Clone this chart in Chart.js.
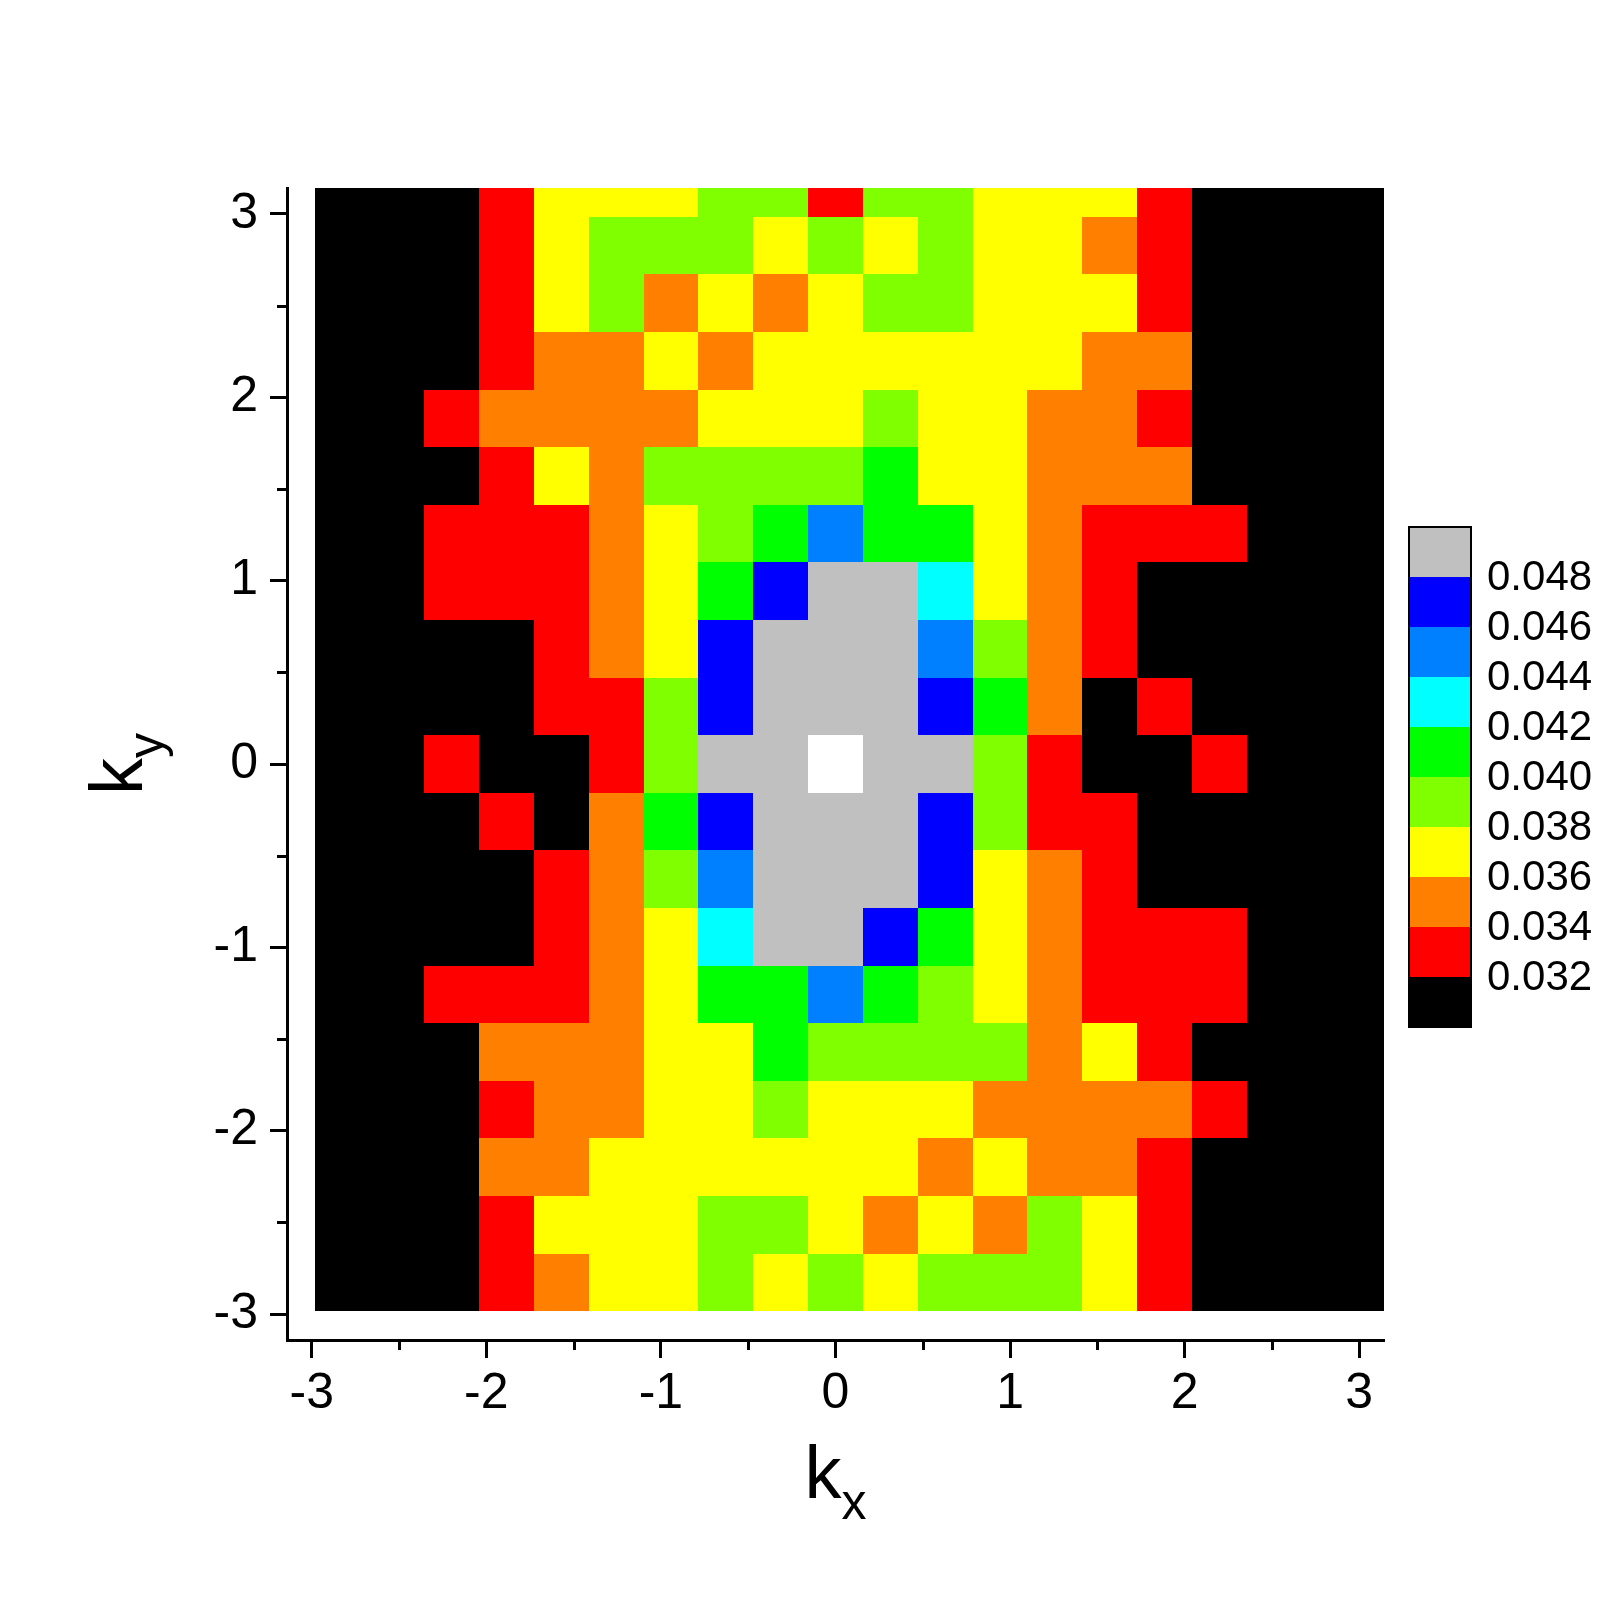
<!DOCTYPE html>
<html>
<head>
<meta charset="utf-8">
<script src="https://cdn.jsdelivr.net/npm/chart.js@4.4.1/dist/chart.umd.min.js"></script>
<style>
  html, body { margin: 0; padding: 0; background: #ffffff; }
  #wrap { position: relative; width: 1609px; height: 1609px; }
</style>
</head>
<body>
<div id="wrap"><canvas id="c" width="1609" height="1609"></canvas></div>
<script>
// ---------------- DATA ----------------
// cell centres along k_x (left -> right)
const kx = [-2.827, -2.513, -2.199, -1.885, -1.571, -1.257, -0.942, -0.628, -0.314, 0,
            0.314, 0.628, 0.942, 1.257, 1.571, 1.885, 2.199, 2.513, 2.827, 3.142];
// cell centres along k_y, one per row of the matrix (top -> bottom)
const kyRows = [3.142, 2.827, 2.513, 2.199, 1.885, 1.571, 1.257, 0.942, 0.628, 0.314,
                0, -0.314, -0.628, -0.942, -1.257, -1.571, -1.885, -2.199, -2.513, -2.827];
// intensity values (row-major, top row first)
const intensity = [
  [0.031,0.031,0.031,0.033,0.037,0.037,0.037,0.039,0.039,0.033,0.039,0.039,0.037,0.037,0.037,0.033,0.031,0.031,0.031,0.031],
  [0.031,0.031,0.031,0.033,0.037,0.039,0.039,0.039,0.037,0.039,0.037,0.039,0.037,0.037,0.035,0.033,0.031,0.031,0.031,0.031],
  [0.031,0.031,0.031,0.033,0.037,0.039,0.035,0.037,0.035,0.037,0.039,0.039,0.037,0.037,0.037,0.033,0.031,0.031,0.031,0.031],
  [0.031,0.031,0.031,0.033,0.035,0.035,0.037,0.035,0.037,0.037,0.037,0.037,0.037,0.037,0.035,0.035,0.031,0.031,0.031,0.031],
  [0.031,0.031,0.033,0.035,0.035,0.035,0.035,0.037,0.037,0.037,0.039,0.037,0.037,0.035,0.035,0.033,0.031,0.031,0.031,0.031],
  [0.031,0.031,0.031,0.033,0.037,0.035,0.039,0.039,0.039,0.039,0.041,0.037,0.037,0.035,0.035,0.035,0.031,0.031,0.031,0.031],
  [0.031,0.031,0.033,0.033,0.033,0.035,0.037,0.039,0.041,0.045,0.041,0.041,0.037,0.035,0.033,0.033,0.033,0.031,0.031,0.031],
  [0.031,0.031,0.033,0.033,0.033,0.035,0.037,0.041,0.047,0.049,0.049,0.043,0.037,0.035,0.033,0.031,0.031,0.031,0.031,0.031],
  [0.031,0.031,0.031,0.031,0.033,0.035,0.037,0.047,0.049,0.049,0.049,0.045,0.039,0.035,0.033,0.031,0.031,0.031,0.031,0.031],
  [0.031,0.031,0.031,0.031,0.033,0.033,0.039,0.047,0.049,0.049,0.049,0.047,0.041,0.035,0.031,0.033,0.031,0.031,0.031,0.031],
  [0.031,0.031,0.033,0.031,0.031,0.033,0.039,0.049,0.049,0.051,0.049,0.049,0.039,0.033,0.031,0.031,0.033,0.031,0.031,0.031],
  [0.031,0.031,0.031,0.033,0.031,0.035,0.041,0.047,0.049,0.049,0.049,0.047,0.039,0.033,0.033,0.031,0.031,0.031,0.031,0.031],
  [0.031,0.031,0.031,0.031,0.033,0.035,0.039,0.045,0.049,0.049,0.049,0.047,0.037,0.035,0.033,0.031,0.031,0.031,0.031,0.031],
  [0.031,0.031,0.031,0.031,0.033,0.035,0.037,0.043,0.049,0.049,0.047,0.041,0.037,0.035,0.033,0.033,0.033,0.031,0.031,0.031],
  [0.031,0.031,0.033,0.033,0.033,0.035,0.037,0.041,0.041,0.045,0.041,0.039,0.037,0.035,0.033,0.033,0.033,0.031,0.031,0.031],
  [0.031,0.031,0.031,0.035,0.035,0.035,0.037,0.037,0.041,0.039,0.039,0.039,0.039,0.035,0.037,0.033,0.031,0.031,0.031,0.031],
  [0.031,0.031,0.031,0.033,0.035,0.035,0.037,0.037,0.039,0.037,0.037,0.037,0.035,0.035,0.035,0.035,0.033,0.031,0.031,0.031],
  [0.031,0.031,0.031,0.035,0.035,0.037,0.037,0.037,0.037,0.037,0.037,0.035,0.037,0.035,0.035,0.033,0.031,0.031,0.031,0.031],
  [0.031,0.031,0.031,0.033,0.037,0.037,0.037,0.039,0.039,0.037,0.035,0.037,0.035,0.039,0.037,0.033,0.031,0.031,0.031,0.031],
  [0.031,0.031,0.031,0.033,0.035,0.037,0.037,0.039,0.037,0.039,0.037,0.039,0.039,0.039,0.037,0.033,0.031,0.031,0.031,0.031]
];
// contour levels (lower bounds) and their fill colours
const levels = [0.032, 0.034, 0.036, 0.038, 0.040, 0.042, 0.044, 0.046, 0.048, 0.050];
const levelColors = ['#000000', '#ff0000', '#ff8000', '#ffff00', '#80ff00',
                     '#00ff00', '#00ffff', '#0080ff', '#0000ff', '#c0c0c0', '#ffffff'];
const colorbarLabels = ['0.032', '0.034', '0.036', '0.038', '0.040', '0.042', '0.044', '0.046', '0.048'];
const axisRange = [-3.1416, 3.1416];
const majorTicks = [-3, -2, -1, 0, 1, 2, 3];
const minorTicks = [-2.5, -1.5, -0.5, 0.5, 1.5, 2.5];
// --------------------------------------

const FONT = "'Liberation Sans', Arial, Helvetica, sans-serif";

function colorFor(v) {
  let i = 0;
  while (i < levels.length && v >= levels[i]) i++;
  return levelColors[i];
}

function edges(arr) {
  // half-way boundaries between neighbouring centres
  return arr.map((c, i) => {
    const prev = i > 0 ? arr[i - 1] : c - (arr[1] - arr[0]);
    const next = i < arr.length - 1 ? arr[i + 1] : c + (c - arr[i - 1]);
    return [(prev + c) / 2, (c + next) / 2].sort((a, b) => a - b);
  });
}

const xEdges = edges(kx);
const yEdges = edges(kyRows);
const cells = [];
intensity.forEach((row, r) => {
  row.forEach((v, c) => {
    cells.push({ x: kx[c], y: kyRows[r], v: v,
                 x0: xEdges[c][0], x1: xEdges[c][1],
                 y0: yEdges[r][0], y1: yEdges[r][1] });
  });
});

const heatmapPlugin = {
  id: 'heatmap',
  beforeDatasetsDraw(chart) {
    const { ctx, chartArea: a, scales } = chart;
    const xs = scales.x, ys = scales.y;
    ctx.save();
    ctx.beginPath();
    ctx.rect(a.left, a.top, a.right - a.left, a.bottom - a.top);
    ctx.clip();
    chart.data.datasets[0].data.forEach(p => {
      const x0 = Math.round(xs.getPixelForValue(p.x0));
      const x1 = Math.round(xs.getPixelForValue(p.x1));
      const yT = Math.round(ys.getPixelForValue(p.y1));
      const yB = Math.round(ys.getPixelForValue(p.y0));
      ctx.fillStyle = colorFor(p.v);
      ctx.fillRect(x0, yT, x1 - x0, yB - yT);
    });
    ctx.restore();
  },
  afterDraw(chart) {
    const { ctx, chartArea: a, scales } = chart;
    const xs = scales.x, ys = scales.y;
    ctx.save();
    // minor ticks
    ctx.strokeStyle = '#000';
    ctx.lineWidth = 3;
    ctx.beginPath();
    minorTicks.forEach(v => {
      const px = Math.round(xs.getPixelForValue(v)) + 0.5;
      ctx.moveTo(px, a.bottom);
      ctx.lineTo(px, a.bottom + 10);
      const py = Math.round(ys.getPixelForValue(v)) + 0.5;
      ctx.moveTo(a.left, py);
      ctx.lineTo(a.left - 10, py);
    });
    ctx.stroke();

    // axis titles
    ctx.fillStyle = '#000';
    ctx.textBaseline = 'alphabetic';
    ctx.textAlign = 'left';
    const cx = (a.left + a.right) / 2;
    ctx.font = '74px ' + FONT;
    const kW = ctx.measureText('k').width;
    ctx.font = '50px ' + FONT;
    const xW = ctx.measureText('x').width;
    let sx = cx - (kW + xW) / 2;
    ctx.font = '74px ' + FONT;
    ctx.fillText('k', sx, 1498);
    ctx.font = '50px ' + FONT;
    ctx.fillText('x', sx + kW, 1519);

    const cy = (a.top + a.bottom) / 2;
    ctx.save();
    ctx.translate(142, cy);
    ctx.rotate(-Math.PI / 2);
    ctx.font = '50px ' + FONT;
    const yW = ctx.measureText('y').width;
    sx = -(kW + yW) / 2;
    ctx.font = '74px ' + FONT;
    ctx.fillText('k', sx, 0);
    ctx.font = '50px ' + FONT;
    ctx.fillText('y', sx + kW, 21);
    ctx.restore();

    // colour bar
    const cb = { left: 1409, top: 527, width: 62, height: 500 };
    const nb = levelColors.length - 1; // white (above range) not in bar
    const bh = cb.height / nb;
    for (let i = 0; i < nb; i++) {
      ctx.fillStyle = levelColors[i];
      const yb = cb.top + cb.height - (i + 1) * bh;
      ctx.fillRect(cb.left, Math.round(yb), cb.width, Math.round(yb + bh) - Math.round(yb));
    }
    ctx.strokeStyle = '#000';
    ctx.lineWidth = 2;
    ctx.strokeRect(cb.left, cb.top, cb.width, cb.height);
    ctx.fillStyle = '#000';
    ctx.font = '42px ' + FONT;
    ctx.textBaseline = 'middle';
    colorbarLabels.forEach((lab, k) => {
      const yb = cb.top + cb.height - (k + 1) * bh;
      ctx.fillText(lab, cb.left + cb.width + 16, yb + 1);
    });
    ctx.restore();
  }
};

const tickFont = { family: FONT, size: 50 };

new Chart(document.getElementById('c'), {
  type: 'scatter',
  data: {
    datasets: [{
      data: cells,
      pointRadius: 0,
      pointHoverRadius: 0,
      showLine: false
    }]
  },
  options: {
    responsive: false,
    animation: false,
    devicePixelRatio: 1,
    layout: { padding: { left: 167, top: 188, right: 225, bottom: 119 } },
    plugins: { legend: { display: false }, tooltip: { enabled: false } },
    events: [],
    scales: {
      x: {
        type: 'linear',
        min: axisRange[0],
        max: axisRange[1],
        afterBuildTicks: s => { s.ticks = majorTicks.map(v => ({ value: v })); },
        afterFit: s => { s.height = 150; },
        ticks: {
          font: tickFont, color: '#000', padding: 6,
          maxRotation: 0, minRotation: 0, autoSkip: false,
          callback: v => String(v)
        },
        grid: { display: true, drawOnChartArea: false, drawTicks: true,
                tickLength: 18, tickWidth: 3, tickColor: '#000' },
        border: { display: true, color: '#000', width: 3 }
      },
      y: {
        type: 'linear',
        min: axisRange[0],
        max: axisRange[1],
        afterBuildTicks: s => { s.ticks = majorTicks.map(v => ({ value: v })); },
        afterFit: s => { s.width = 120; },
        ticks: {
          font: tickFont, color: '#000', padding: 12,
          autoSkip: false,
          callback: v => String(v)
        },
        grid: { display: true, drawOnChartArea: false, drawTicks: true,
                tickLength: 17, tickWidth: 3, tickColor: '#000' },
        border: { display: true, color: '#000', width: 3 }
      }
    }
  },
  plugins: [heatmapPlugin]
});
</script>
</body>
</html>
